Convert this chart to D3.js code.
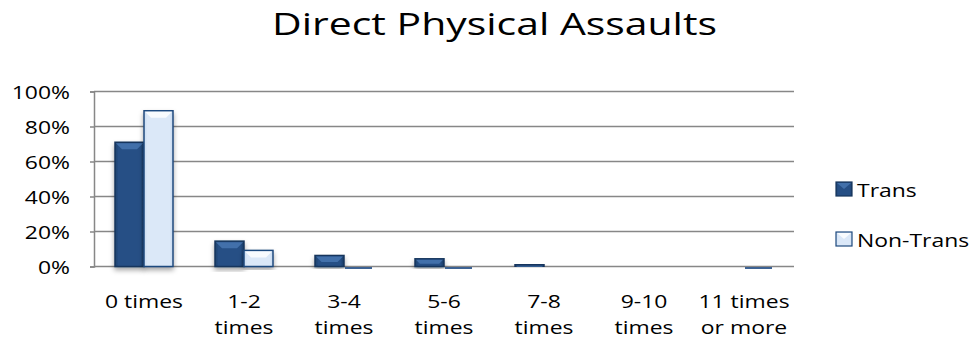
<!DOCTYPE html>
<html lang="en">
<head>
  <meta charset="UTF-8">
  <title>Direct Physical Assaults</title>
  <script src="https://cdn.jsdelivr.net/npm/d3@7"></script>
  <style>
    body{ margin:0; background:#fff; }
    .chart svg{ display:block; font-family: "Open Sans", "Noto Sans", sans-serif; }
  </style>
</head>
<body>
<div class="chart"></div>
<script>
  const categories = ['0 times', '1-2 times', '3-4 times', '5-6 times', '7-8 times', '9-10 times', '11 times or more'];
  const categoryLines = [['0 times'], ['1-2', 'times'], ['3-4', 'times'], ['5-6', 'times'], ['7-8', 'times'], ['9-10', 'times'], ['11 times', 'or more']];
  const seriesNames = ['Trans', 'Non-Trans'];
  const trans = [71, 14.5, 6.3, 4.4, 1, null, null];
  const nonTrans = [89, 9.2, 0, 0, null, null, 0];
  const yTicks = [0, 20, 40, 60, 80, 100];

  let chart = {
    size: {w: 972, h: 349},
    plot: {left: 94, right: 794, top: 91.5, bottom: 266.5},
    labelStretch: 1.24,   // source font is much wider than Open Sans
    titleStretch: 1.32
  };

  const svg = d3.select('.chart').append('svg')
    .attr('width', chart.size.w)
    .attr('height', chart.size.h);

  // gradients for the bevelled bars
  const defs = svg.append('defs');
  function grad(id, stops) {
    let g = defs.append('linearGradient').attr('id', id).attr('x1', 0).attr('x2', 1).attr('y1', 0).attr('y2', 0);
    stops.forEach(s => g.append('stop').attr('offset', s[0]).attr('stop-color', s[1]));
  }
  grad('gTrans', [[0, '#1c3f6b'], [0.12, '#264f85'], [0.88, '#264f85'], [1, '#1a3a63']]);
  grad('gNon', [[0, '#c9dcf2'], [0.12, '#dbe8f8'], [0.88, '#dbe8f8'], [1, '#c4d7ee']]);
  let f = defs.append('filter').attr('id', 'shadow').attr('x', '-30%').attr('y', '-10%').attr('width', '160%').attr('height', '130%');
  f.append('feDropShadow').attr('dx', 0).attr('dy', 3).attr('stdDeviation', 2.5).attr('flood-color', '#000').attr('flood-opacity', 0.35);

  const x = d3.scaleBand().domain(categories).range([chart.plot.left, chart.plot.right]).padding(0);
  const xs = d3.scaleBand().domain(seriesNames).range([x.bandwidth() / 2 - 29, x.bandwidth() / 2 + 29]).padding(0);
  const y = d3.scaleLinear().domain([0, 100]).range([chart.plot.bottom, chart.plot.top]);

  // stretched text: place at (tx,ty) then widen horizontally
  function stretchText(parent, tx, ty, sx, size, anchor) {
    return parent.append('text')
      .attr('transform', `translate(${tx},${ty}) scale(${sx},1)`)
      .attr('text-anchor', anchor)
      .attr('font-size', size)
      .attr('fill', '#000');
  }

  // gridlines
  svg.append('g').selectAll('line').data(yTicks).enter().append('line')
    .attr('x1', chart.plot.left).attr('x2', chart.plot.right)
    .attr('y1', d => y(d)).attr('y2', d => y(d))
    .attr('stroke', '#878787').attr('stroke-width', 1.5);

  // y axis
  let yAxis = d3.axisLeft(y).tickValues(yTicks).tickFormat('').tickSize(4);
  let ya = svg.append('g').attr('transform', `translate(${chart.plot.left},0)`).call(yAxis);
  ya.select('.domain').attr('stroke', '#878787').attr('stroke-width', 1.5);
  ya.selectAll('.tick line').attr('stroke', '#878787').attr('stroke-width', 1.5);
  let yl = svg.append('g');
  yTicks.forEach(t => {
    stretchText(yl, 70, y(t) + 7, chart.labelStretch, 18.5, 'end').text(t + '%');
  });

  // bars
  const rows = categories.map((c, i) => ({cat: c, vals: [trans[i], nonTrans[i]]}));
  const cols = {Trans: {fill: 'url(#gTrans)', stroke: '#17365d', top: '#4a78b3'},
                'Non-Trans': {fill: 'url(#gNon)', stroke: '#1f4a7e', top: '#ffffff'}};

  let groups = svg.append('g').selectAll('g').data(rows).enter().append('g')
    .attr('transform', d => `translate(${x(d.cat)},0)`);

  groups.each(function (row) {
    let g = d3.select(this);
    row.vals.forEach((v, k) => {
      if (v === null) return;
      let s = seriesNames[k];
      let bx = xs(s), bw = xs.bandwidth();
      if (v === 0) {
        g.append('rect').attr('x', bx + 1).attr('y', y(0) + 0.5).attr('width', bw - 2).attr('height', 2)
          .attr('fill', '#3d6394');
        return;
      }
      let top = y(v), h = y(0) - y(v);
      g.append('rect').attr('x', bx).attr('y', top).attr('width', bw).attr('height', h)
        .attr('fill', cols[s].fill).attr('stroke', cols[s].stroke).attr('stroke-width', 1.5)
        .attr('filter', 'url(#shadow)');
      // bevel on top
      let bev = Math.min(6, h / 2);
      g.append('path')
        .attr('d', `M${bx + 1},${top + 1}L${bx + bw - 1},${top + 1}L${bx + bw - 1 - bev},${top + 1 + bev}L${bx + 1 + bev},${top + 1 + bev}Z`)
        .attr('fill', cols[s].top).attr('opacity', 0.8);
    });
  });

  // x labels
  let xl = svg.append('g');
  categories.forEach((c, i) => {
    categoryLines[i].forEach((ln, j) => {
      stretchText(xl, x(c) + x.bandwidth() / 2, 308 + j * 26, chart.labelStretch, 18.5, 'middle').text(ln);
    });
  });

  // title
  stretchText(svg, 494.5, 34.5, chart.titleStretch, 31, 'middle').text('Direct Physical Assaults');

  // legend
  let lg = svg.append('g').selectAll('g').data(seriesNames).enter().append('g')
    .attr('transform', (d, i) => `translate(836,${182 + i * 50})`);
  lg.append('rect').attr('width', 16).attr('height', 14)
    .attr('fill', d => cols[d].fill).attr('stroke', d => cols[d].stroke).attr('stroke-width', 1.2);
  lg.append('path').attr('d', 'M1,1L15,1L8,7Z').attr('fill', d => cols[d].top).attr('opacity', 0.8);
  lg.each(function (d) {
    stretchText(d3.select(this), 21, 15, chart.labelStretch, 18.5, 'start').text(d);
  });
</script>
</body>
</html>
